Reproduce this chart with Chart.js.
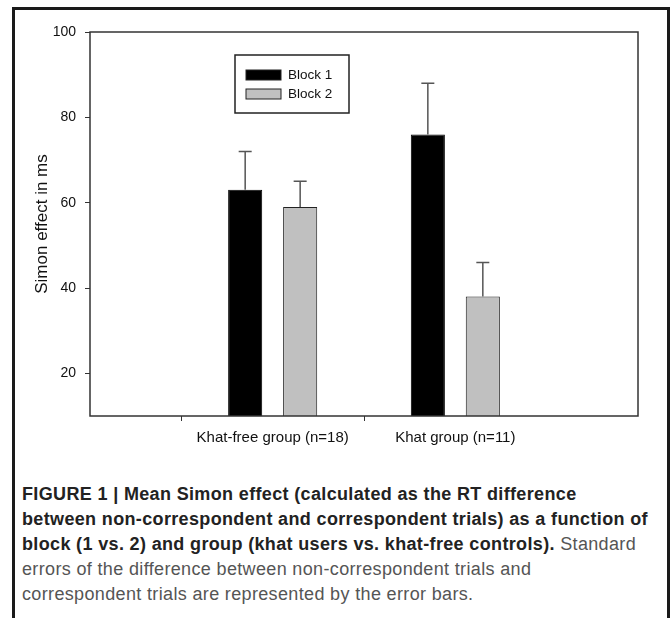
<!DOCTYPE html>
<html>
<head>
<meta charset="utf-8">
<script src="https://cdn.jsdelivr.net/npm/chart.js@4"></script>
<style>
    html, body { margin: 0; padding: 0; background: #fff; }
    body { width: 671px; height: 618px; position: relative; overflow: hidden; font-family: "Liberation Sans", Arial, sans-serif; }
    #frame { position: absolute; left: 12px; top: 7px; width: 652px; height: 700px; border: 3px solid #1a1a1a; border-bottom: none; }
    #wrap { position: absolute; left: 0; top: 0; width: 671px; height: 460px; }
    #caption { position: absolute; left: 22px; top: 482px; width: 645px; font-family: "Liberation Sans", Arial, sans-serif; font-size: 18px; letter-spacing: 0.35px; line-height: 25px; color: #555; white-space: nowrap; }
    #caption b { color: #222; }
</style>
</head>
<body>
<div id="frame"></div>
<div id="wrap"><canvas id="barChart" width="671" height="460"></canvas></div>
<div id="caption">
    <b>FIGURE 1 | Mean Simon effect (calculated as the RT difference<br>
    between non-correspondent and correspondent trials) as a function of<br>
    block (1 vs. 2) and group (khat users vs. khat-free controls).</b> Standard<br>
    errors of the difference between non-correspondent trials and<br>
    correspondent trials are represented by the error bars.
</div>
<script>
const groups = ['Khat-free group (n=18)', 'Khat group (n=11)'];
const block1 = [63, 76];
const block2 = [59, 38];
const block1Err = [9, 12];
const block2Err = [6, 8];
const yTicks = [20, 40, 60, 80, 100];

// empty slots on each side so the two groups sit at 1/3 and 2/3 of the axis
const labels = [''].concat(groups, ['']);
const pad = arr => [null].concat(arr, [null]);

// error bars (upper half only), drawn from the bar tops
const errorBars = {
    id: 'errorBars',
    afterDatasetsDraw(chart) {
        const ctx = chart.ctx;
        const yScale = chart.scales.y;
        ctx.save();
        ctx.strokeStyle = '#555';
        ctx.lineWidth = 1.5;
        chart.data.datasets.forEach((ds, i) => {
            const meta = chart.getDatasetMeta(i);
            meta.data.forEach((bar, j) => {
                const v = ds.data[j];
                if (v == null) return;
                const top = yScale.getPixelForValue(v + ds.errors[j]);
                ctx.beginPath();
                ctx.moveTo(bar.x, bar.y);
                ctx.lineTo(bar.x, top);
                ctx.moveTo(bar.x - 6.5, top);
                ctx.lineTo(bar.x + 6.5, top);
                ctx.stroke();
            });
        });
        ctx.restore();
    }
};

// box round the plot area
const plotFrame = {
    id: 'plotFrame',
    afterDraw(chart) {
        const { left, top, right, bottom } = chart.chartArea;
        const ctx = chart.ctx;
        ctx.save();
        ctx.strokeStyle = '#333';
        ctx.lineWidth = 1.5;
        ctx.strokeRect(left, top, right - left, bottom - top);
        ctx.restore();
    }
};

// legend box inside the plot
const boxLegend = {
    id: 'boxLegend',
    afterDraw(chart) {
        const ctx = chart.ctx;
        const bx = 235, by = 55, bw = 114, bh = 58;
        ctx.save();
        ctx.strokeStyle = '#222';
        ctx.lineWidth = 1.5;
        ctx.strokeRect(bx, by, bw, bh);
        ctx.font = '13.5px "Liberation Sans", Arial, sans-serif';
        ctx.textBaseline = 'middle';
        chart.data.datasets.forEach((ds, i) => {
            const y = by + 15 + i * 19;
            ctx.fillStyle = ds.backgroundColor;
            ctx.fillRect(bx + 11, y, 35, 10);
            ctx.lineWidth = 1;
            ctx.strokeStyle = '#222';
            ctx.strokeRect(bx + 11, y, 35, 10);
            ctx.fillStyle = '#111';
            ctx.fillText(ds.label, bx + 53, y + 5.5);
        });
        ctx.restore();
    }
};

new Chart(document.getElementById('barChart'), {
    type: 'bar',
    data: {
        labels: labels,
        datasets: [
            { label: 'Block 1', data: pad(block1), errors: pad(block1Err), backgroundColor: '#000', borderColor: '#000', borderWidth: 1 },
            { label: 'Block 2', data: pad(block2), errors: pad(block2Err), backgroundColor: '#c0c0c0', borderColor: '#222', borderWidth: 1 }
        ]
    },
    options: {
        responsive: false,
        animation: false,
        devicePixelRatio: 1,
        layout: { padding: { left: 0, top: 32, right: 33, bottom: 0 } },
        datasets: { bar: { categoryPercentage: 0.602, barPercentage: 0.62 } },
        plugins: { legend: { display: false }, tooltip: { enabled: false } },
        scales: {
            x: {
                offset: false,
                afterFit: s => { s.height = 44; },
                border: { display: false },
                grid: {
                    drawOnChartArea: false,
                    tickLength: 5,
                    color: c => (c.index === 0 || c.index === labels.length - 1) ? 'rgba(0,0,0,0)' : '#333'
                },
                ticks: { color: '#111', font: { size: 15, family: '"Liberation Sans", Arial' }, padding: 8, maxRotation: 0, autoSkip: false }
            },
            y: {
                min: 10,
                max: 100,
                afterFit: s => { s.width = 90; },
                afterBuildTicks: s => { s.ticks = yTicks.map(v => ({ value: v })); },
                border: { display: false },
                grid: { drawOnChartArea: false, tickLength: 5, color: '#333' },
                ticks: { color: '#111', font: { size: 14, family: '"Liberation Sans", Arial' }, padding: 9 },
                title: { display: true, text: 'Simon effect in ms', color: '#111', font: { size: 17, family: '"Liberation Sans", Arial' }, padding: { top: 32 } }
            }
        }
    },
    plugins: [errorBars, plotFrame, boxLegend]
});
</script>
</body>
</html>
